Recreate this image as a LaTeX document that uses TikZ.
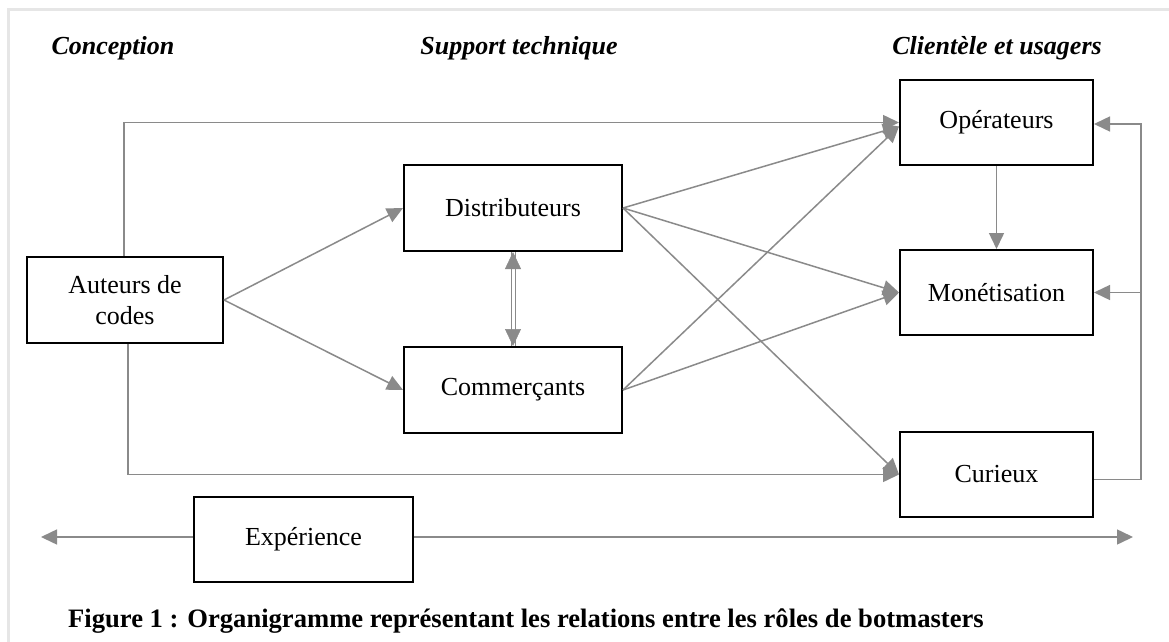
\documentclass[tikz,border=0pt]{standalone}
\usepackage{fontspec}
\setmainfont{Liberation Serif}
\usetikzlibrary{arrows.meta,calc}
\definecolor{conn}{HTML}{8A8A8A}
\definecolor{frame}{HTML}{E6E6E6}
\begin{document}
\begin{tikzpicture}[x=1pt,y=-1pt,
  box/.style={draw=black,line width=2pt,fill=white,align=center,
    font=\fontsize{26}{31}\selectfont,inner sep=0pt},
  title/.style={font=\fontsize{26}{31}\selectfont\bfseries\itshape,anchor=base,inner sep=0pt},
  conn/.style={draw=conn,line width=1.5pt},
  tip/.style={-{Triangle[length=16pt,width=15pt,fill=conn]}},
  wtip/.style={draw=white,line width=0.5pt,-{Triangle[length=17pt,width=16pt,color=conn,fill=conn]}},
  arr/.style={conn,tip},
  dline/.style={draw=conn,line width=1pt}
]
\useasboundingbox (0,0) rectangle (1169,642);
\fill[white] (0,0) rectangle (1169,642);
\draw[frame,line width=3pt] (8,642) -- (8,10) -- (1169,10);

\node[title] (t1) at (113,55) {Conception};
\node[title] (t2) at (519,55) {Support technique};
\node[title] (t3) at (997,55) {Clientèle et usagers};

\node[box,minimum width=196pt,minimum height=86pt] (aut) at (125,300) {Auteurs de\\codes};
\node[box,minimum width=218pt,minimum height=86pt] (dis) at (513,208) {Distributeurs};
\node[box,minimum width=218pt,minimum height=86pt] (com) at (513,390) {Commerçants};
\node[box,minimum width=193pt,minimum height=85pt] (ope) at (996.5,122.5) {Opérateurs};
\node[box,minimum width=193pt,minimum height=85pt] (mon) at (996.5,292.5) {Monétisation};
\node[box,minimum width=193pt,minimum height=85pt] (cur) at (996.5,474.5) {Curieux};
\node[box,minimum width=219pt,minimum height=85pt] (exp) at (303.5,539.5) {Expérience};

\coordinate (L) at (41,537);
\coordinate (R) at (1133,537);
\coordinate (rx) at (1141,479.5);

% Auteurs
\draw[arr] ([xshift=-1pt]aut.north) |- (ope.west);
\draw[arr] ([xshift=3pt]aut.south) |- (cur.west);
\draw[arr] (aut.east) -- (dis.west);
\draw[arr] (aut.east) -- (com.west);
% Distributeurs
\draw[arr] (dis.east) -- ([yshift=-4pt]ope.west);
\draw[arr] (dis.east) -- (mon.west);
\draw[arr] (dis.east) -- (cur.west);
% Commerçants
\draw[arr] (com.east) -- ([yshift=-4pt]ope.west);
\draw[arr] (com.east) -- (mon.west);
% double line with heads
\draw[wtip] ($(dis.south)!0.5!(com.north)$) -- (dis.south);
\draw[wtip] ($(dis.south)!0.5!(com.north)$) -- (com.north);
\draw[dline] ([xshift=-2pt]dis.south) -- ([xshift=-2pt]com.north);
\draw[dline] ([xshift=2pt]dis.south) -- ([xshift=2pt]com.north);
% Opérateurs -> Monétisation
\draw[arr] (ope.south) -- (mon.north);
% Curieux loop
\draw[conn] ([yshift=-5pt]cur.east) -- (rx);
\draw[arr] (rx) |- ([yshift=-1.5pt]ope.east);
\draw[arr] (rx |- mon.east) -- (mon.east);
% Expérience
\draw[arr] ([yshift=2.5pt]exp.west) -- (L);
\draw[arr] ([yshift=2.5pt]exp.east) -- (R);

\node[font=\fontsize{26.6}{31}\selectfont\bfseries,anchor=base west,inner sep=0pt] (cap) at (68,627)
  {Figure 1 : Organigramme représentant les relations entre les rôles de botmasters};
\end{tikzpicture}
\end{document}
